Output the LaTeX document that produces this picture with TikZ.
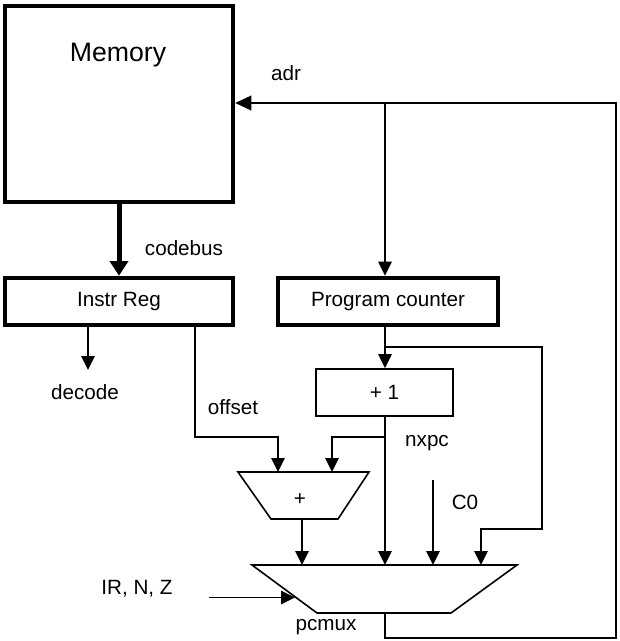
\documentclass[tikz,border=0pt]{standalone}
\usepackage{fontspec}
\setmainfont{Liberation Sans}
\usetikzlibrary{arrows.meta}
\begin{document}
\begin{tikzpicture}[x=0.75pt,y=-0.75pt,
  plain/.style={line width=1.2pt},
  wire/.style={line width=1.2pt, -{Triangle[width=10pt,length=10.5pt]}},
  bigbox/.style={draw, line width=3.4pt, inner sep=0pt},
  smallbox/.style={draw, line width=1.2pt, inner sep=0pt},
  lbl/.style={font=\fontsize{15.5}{18}\selectfont, inner sep=0pt},
]
\useasboundingbox (0,0) rectangle (619,641);

% helper x positions
\coordinate (xdec) at (88,0);
\coordinate (xoff) at (195,0);
\coordinate (xpc)  at (385,0);

% boxes
\node[bigbox, minimum width=171pt, minimum height=147pt] (mem) at (119,104) {};
\node[inner sep=0pt, font=\fontsize{20}{24}\selectfont] (memlbl) at (118,55) {Memory};
\node[bigbox, lbl, minimum width=171pt, minimum height=35.25pt] (ir) at (119,301.5) {Instr Reg};
\node[bigbox, lbl, minimum width=165pt, minimum height=35.25pt] (pc) at (388,301.5) {Program counter};
\node[smallbox, lbl, minimum width=102.75pt, minimum height=35.25pt] (inc) at (384.5,392.5) {+ 1};

% adder
\coordinate (a1) at (238,472);
\coordinate (a2) at (369,472);
\coordinate (a3) at (338,519);
\coordinate (a4) at (271,519);
\draw[plain, line join=miter] (a1) -- (a2) -- (a3) -- (a4) -- cycle;
\node[lbl] (adder) at (300,500) {+};
\coordinate (addA) at (278,472);
\coordinate (addB) at (332,472);
\coordinate (addout) at (302,519);

% pcmux
\coordinate (m1) at (252,565);
\coordinate (m2) at (517,565);
\coordinate (m3) at (451,613);
\coordinate (m4) at (317,613);
\draw[plain, line join=miter] (m1) -- (m2) -- (m3) -- (m4) -- cycle;
\coordinate (muxA) at (302,565);
\coordinate (muxB) at (385,565);
\coordinate (muxC) at (433,565);
\coordinate (muxD) at (481,565);
\coordinate (muxsel) at (295,597.5);
\coordinate (muxout) at (385,613);

% labels
\node[lbl] (adr) at (286,73) {adr};
\node[lbl] (codebus) at (184,248) {codebus};
\node[lbl] (dec) at (85,392) {decode};
\node[lbl] (offset) at (233,407) {offset};
\node[lbl] (nxpc) at (427,443) {nxpc};
\node[lbl] (c0) at (465,502) {C0};
\node[lbl] (irnz) at (137,589) {IR, N, Z};
\node[lbl] (pcmux) at (326,627) {pcmux};

% helper points
\coordinate (j1) at (385,103);
\coordinate (j2) at (385,347);
\coordinate (rb) at (542,529);
\coordinate (offk) at (278,437);
\coordinate (decin) at (88,370);
\coordinate (c0top) at (433,480);
\coordinate (irnzstart) at (209,597.5);
\coordinate (bl) at (385,638);
\coordinate (br) at (616,638);
\coordinate (tr) at (616,103);

% codebus
\draw[line width=3.75pt, -{Triangle[width=13.5pt,length=11pt]}] (mem.south) -- (ir.north);

% address loop
\draw[line width=1.2pt, -{Triangle[width=11pt,length=12pt]}] (muxout) -- (bl) -- (br) -- (tr) -- (mem.east |- tr);
\draw[wire] (j1) -- (pc.north -| xpc);

% decode
\draw[wire] (ir.south -| xdec) -- (decin);

% offset
\draw[wire] (ir.south -| xoff) |- (offk) -- (addA);

% pc -> +1
\draw[wire] (pc.south -| xpc) -- (inc.north -| xpc);
\draw[wire] (j2) -| (rb) -| (muxD);

% nxpc
\draw[wire] (inc.south -| xpc) -- (muxB);
\draw[wire] (xpc |- offk) -| (addB);

% adder out
\draw[wire] (addout) -- (muxA);

% C0
\draw[wire] (c0top) -- (muxC);

% IR,N,Z
\draw[wire] (irnzstart) -- (muxsel);
\end{tikzpicture}
\end{document}
